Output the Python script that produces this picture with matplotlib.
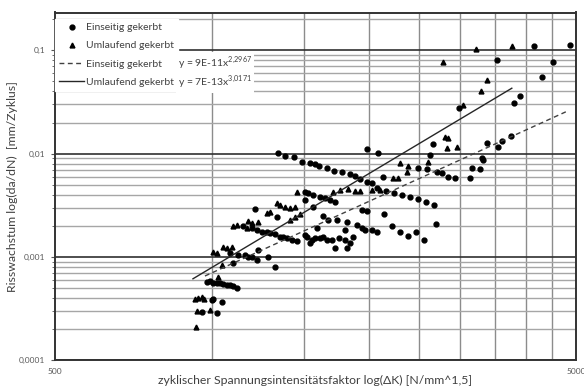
import numpy as np
import matplotlib
matplotlib.use("Agg")
from matplotlib import pyplot as plt
from matplotlib import ticker
from matplotlib.lines import Line2D

plt.rcParams['font.family'] = ['Lato', 'DejaVu Sans']

# Einseitig gekerbt (circles)
k_einseitig = [978, 992, 1007, 1022, 1037, 1052, 1068, 1084, 1100, 1116, 1000, 1007, 1045, 956, 1022,
               1100, 1084, 1124, 1158, 1175, 1193, 1220, 1283, 1322, 1228,
               1149, 1193, 1220, 1247, 1275, 1293, 1322, 1352, 1372, 1392, 1423, 1455, 1510, 1521,
               1555, 1543, 1578, 1590, 1613, 1636, 1661, 1698, 1723, 1757, 1801, 1815, 1842, 1869,
               1801, 1897, 1940, 1968, 2027, 2072, 1636, 1673, 1736, 1815, 1210, 1332, 1510, 1566,
               1510, 1532, 1566, 1613, 1649, 1686, 1723, 1940, 1982,
               1342, 1382, 1438, 1488, 1543, 1578, 1608, 1661, 1716, 1775, 1842, 1883, 1925, 1982,
               2027, 2072, 1982, 2087,
               2134, 2491, 2585, 2702, 2763, 2844, 2930, 3130, 3153, 3270, 3296, 3320, 2623, 2662,
               3370, 3546, 3600, 3745, 2985, 3805, 3903, 4308, 3521, 4523, 4153, 4876,
               2158, 2237, 2317, 2400, 2487, 2577, 2670, 2140, 2217, 2297, 2380, 2465, 2554, 2694]
dadn_einseitig = [5.74e-4, 5.87e-4, 5.61e-4, 5.54e-4, 5.61e-4, 5.45e-4, 5.33e-4, 5.33e-4, 5.21e-4, 5.02e-4,
                  3.81e-4, 3.93e-4, 3.67e-4, 2.90e-4, 2.84e-4,
                  8.7e-4, 1.08e-3, 1.04e-3, 1.04e-3, 1.0e-3, 1.0e-3, 9.3e-4, 1.0e-3, 8.0e-4, 1.16e-3,
                  1.99e-3, 1.89e-3, 1.82e-3, 1.75e-3, 1.75e-3, 1.69e-3, 1.66e-3, 1.57e-3, 1.55e-3,
                  1.51e-3, 1.46e-3, 1.43e-3, 1.63e-3, 1.57e-3,
                  1.46e-3, 1.35e-3, 1.51e-3, 1.89e-3, 1.51e-3, 1.57e-3, 1.46e-3, 1.46e-3, 1.21e-3,
                  1.51e-3, 1.46e-3, 1.21e-3, 1.35e-3, 1.57e-3,
                  1.82e-3, 2.03e-3, 1.89e-3, 1.82e-3, 1.82e-3, 1.75e-3, 2.49e-3, 2.27e-3, 2.27e-3,
                  2.19e-3, 2.89e-3, 2.45e-3, 3.55e-3, 3.06e-3,
                  4.22e-3, 4.12e-3, 3.97e-3, 3.82e-3, 3.69e-3, 3.55e-3, 3.42e-3, 2.84e-3, 2.80e-3,
                  1.007e-2, 9.54e-3, 9.21e-3, 8.35e-3, 8.16e-3, 7.93e-3, 7.58e-3, 7.20e-3, 6.83e-3,
                  6.59e-3, 6.30e-3, 6.07e-3, 5.64e-3, 5.34e-3,
                  5.19e-3, 4.61e-3, 1.10e-2, 1.01e-2,
                  5.97e-3, 7.20e-3, 7.05e-3, 6.68e-3, 6.44e-3, 5.97e-3, 5.76e-3, 5.84e-3, 7.30e-3,
                  7.09e-3, 9.0e-3, 8.67e-3, 9.69e-3, 1.24e-2,
                  1.28e-2, 1.17e-2, 1.33e-2, 1.48e-2, 2.75e-2, 3.11e-2, 3.64e-2, 5.49e-2, 8.07e-2,
                  7.77e-2, 0.111, 0.113,
                  4.34e-3, 4.15e-3, 3.97e-3, 3.80e-3, 3.63e-3, 3.40e-3, 3.18e-3, 2.60e-3, 1.99e-3,
                  1.74e-3, 1.59e-3, 1.74e-3, 1.46e-3, 2.08e-3]

# Umlaufend gekerbt (triangles)
k_umlaufend = [1007, 1022, 1052, 1068, 1092, 1100, 1116, 1029, 1045, 929, 942, 956, 966, 935, 992, 931,
               1175, 1193, 1228, 1167, 1332, 1352, 1382, 1412, 1444, 1293, 1278, 1412, 1444, 1476,
               1455, 1711, 1762, 1828, 1883, 1925, 2027, 2103, 2230, 2280, 2297, 2383, 2366, 2597,
               2803, 2844, 2824, 2951, 3038, 3285, 3370, 2781, 3213, 3762]
dadn_umlaufend = [1.12e-3, 1.095e-3, 1.25e-3, 1.21e-3, 1.24e-3, 1.99e-3, 2.03e-3, 6.41e-4, 8.3e-4,
                  3.87e-4, 3.96e-4, 4.05e-4, 3.90e-4, 3.0e-4, 3.05e-4, 2.07e-4,
                  2.24e-3, 2.11e-3, 2.19e-3, 1.89e-3, 3.30e-3, 3.18e-3, 3.06e-3, 2.95e-3, 3.06e-3,
                  2.74e-3, 2.64e-3, 2.27e-3, 2.41e-3, 2.60e-3,
                  4.27e-3, 4.27e-3, 4.44e-3, 4.51e-3, 4.37e-3, 4.37e-3, 4.44e-3, 4.44e-3, 5.84e-3,
                  5.76e-3, 8.16e-3, 7.64e-3, 6.68e-3, 8.24e-3,
                  1.44e-2, 1.41e-2, 1.13e-2, 1.17e-2, 2.96e-2, 4.07e-2, 5.17e-2, 7.77e-2, 0.1025, 0.111]

# power-law trendlines as printed in the chart
trend_k_einseitig = [970, 4780]
trend_k_umlaufend = [920, 3765]
coef_einseitig, exp_einseitig = 9e-11, 2.2967
coef_umlaufend, exp_umlaufend = 7e-13, 3.0171

fig = plt.figure(figsize=(5.84, 3.89), dpi=100)
ax = fig.add_axes([55/584, 29/389, 521/584, 347.5/389])
ax.set_xscale('log')
ax.set_yscale('log')
ax.set_xlim(500, 5000)
ax.set_ylim(1e-4, 0.233)

# grid
ax.yaxis.set_major_locator(ticker.LogLocator(base=10, numticks=10))
ax.yaxis.set_minor_locator(ticker.LogLocator(base=10, subs=np.arange(2, 10), numticks=20))
ax.yaxis.set_major_formatter(ticker.FuncFormatter(lambda v, p: f"{v:g}".replace('.', ',')))
ax.yaxis.set_minor_formatter(ticker.NullFormatter())
ax.xaxis.set_major_locator(ticker.FixedLocator([500, 5000]))
ax.xaxis.set_major_formatter(ticker.FixedFormatter(['500', '5000']))
ax.xaxis.set_minor_locator(ticker.FixedLocator(np.arange(1000, 5000, 500)))
ax.xaxis.set_minor_formatter(ticker.NullFormatter())

ax.grid(True, axis='y', which='major', color='#303030', lw=1.2)
ax.grid(True, axis='y', which='minor', color='#a6a6a6', lw=1.0)
ax.grid(True, axis='x', which='minor', color='#8c8c8c', lw=1.0)
ax.set_axisbelow(True)

for s in ax.spines.values():
    s.set_color('#333333')
    s.set_linewidth(1.4)

ax.tick_params(axis='y', which='major', length=3, width=0.8, color='#555555',
               labelsize=6, labelcolor='#595959', pad=4)
ax.tick_params(axis='y', which='minor', length=2, width=0.6, color='#555555')
ax.tick_params(axis='x', which='both', length=0, labelsize=6, labelcolor='#595959', pad=6)

# data
ax.plot(k_einseitig, dadn_einseitig, ls='none', marker='o', ms=3.5, color='black', zorder=3)
ax.plot(k_umlaufend, dadn_umlaufend, ls='none', marker='^', ms=3.5, color='black', zorder=3)

tk = np.array(trend_k_einseitig, dtype=float)
ax.plot(tk, coef_einseitig * tk ** exp_einseitig, ls=(0, (3.5, 2.5)), color='#404040', lw=1.0, zorder=3)
tk = np.array(trend_k_umlaufend, dtype=float)
ax.plot(tk, coef_umlaufend * tk ** exp_umlaufend, ls='-', color='#262626', lw=1.0, zorder=3)

ax.set_xlabel('zyklischer Spannungsintensitätsfaktor log(ΔK) [N/mm^1,5]', fontsize=8.8,
              color='#404040', labelpad=0)
ax.set_ylabel('Risswachstum log(da/dN)  [mm/Zyklus]', fontsize=8.8, color='#404040', labelpad=1)

handles = [Line2D([], [], ls='none', marker='o', ms=3.5, color='black'),
           Line2D([], [], ls='none', marker='^', ms=3.5, color='black'),
           Line2D([], [], ls=(0, (3.5, 2.5)), color='#404040', lw=1.0),
           Line2D([], [], ls='-', color='#262626', lw=1.0)]
labels = ['Einseitig gekerbt', 'Umlaufend gekerbt', 'Einseitig gekerbt', 'Umlaufend gekerbt']
leg = ax.legend(handles, labels, loc='upper left', bbox_to_anchor=(0, 0.982), borderaxespad=0,
                fontsize=7.5, labelcolor='#404040', frameon=True, fancybox=False,
                facecolor='white', edgecolor='white', framealpha=1, handlelength=2.4,
                handletextpad=0.2, labelspacing=0.85, borderpad=0.4)
leg.set_zorder(5)

ax.text(0.236, 0.855, r'y = 9E-11x$^{\mathregular{2{,}2967}}$', transform=ax.transAxes,
        fontsize=7.5, color='#404040', ha='left', va='center', zorder=6,
        bbox=dict(facecolor='white', edgecolor='none', pad=1.5))
ax.text(0.236, 0.80, r'y = 7E-13x$^{\mathregular{3{,}0171}}$', transform=ax.transAxes,
        fontsize=7.5, color='#404040', ha='left', va='center', zorder=6,
        bbox=dict(facecolor='white', edgecolor='none', pad=1.5))

fig.savefig('out.png', dpi=100)
